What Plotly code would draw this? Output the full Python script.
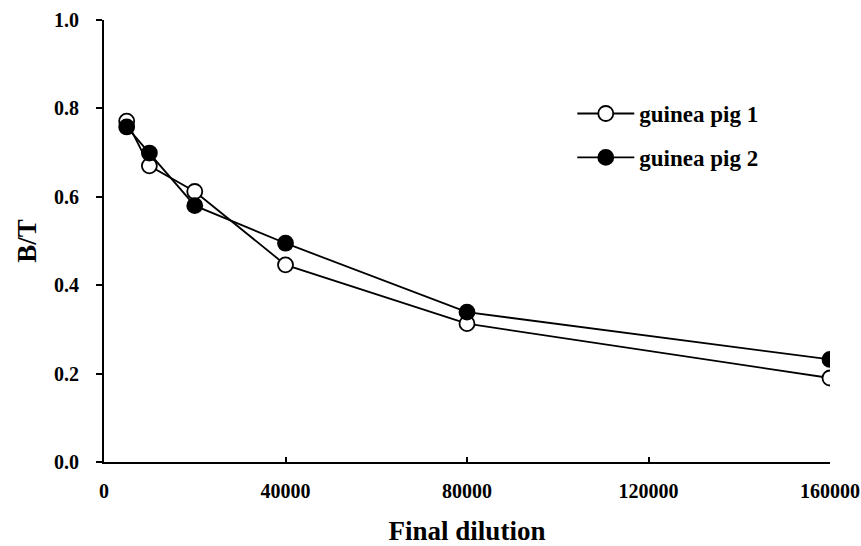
import plotly.graph_objects as go

dilution = [5000, 10000, 20000, 40000, 80000, 160000]
pig1_bt = [0.771, 0.670, 0.612, 0.446, 0.313, 0.190]
pig2_bt = [0.758, 0.699, 0.580, 0.495, 0.339, 0.232]
series_names = ["guinea pig 1", "guinea pig 2"]
x_ticks = [0, 40000, 80000, 120000, 160000]
y_ticks = [0.0, 0.2, 0.4, 0.6, 0.8, 1.0]

font_family = "Liberation Serif, Times New Roman, serif"

fig = go.Figure()
fig.add_trace(go.Scatter(
    x=dilution, y=pig1_bt, name=series_names[0], mode="lines+markers",
    legendgroup="g1",
    line=dict(color="black", width=1.8),
    marker=dict(symbol="circle", size=15, color="white",
                line=dict(color="black", width=1.8)),
))
fig.add_trace(go.Scatter(
    x=dilution, y=pig2_bt, name=series_names[1], mode="lines+markers",
    legendgroup="g2",
    line=dict(color="black", width=1.8),
    marker=dict(symbol="circle", size=15, color="black",
                line=dict(color="black", width=1.8)),
))

fig.update_layout(
    width=861, height=546,
    margin=dict(l=104, r=31, t=20, b=84),
    paper_bgcolor="white", plot_bgcolor="white",
    font=dict(family=font_family, color="black"),
    showlegend=True,
    legend=dict(
        x=0.645, y=0.837, xanchor="left", yanchor="top",
        bgcolor="rgba(0,0,0,0)",
        font=dict(family=font_family, size=23, color="black", weight="bold"),
        tracegroupgap=11, itemwidth=57,
    ),
    xaxis=dict(
        range=[0, 160000], tickvals=x_ticks,
        ticktext=[str(v) for v in x_ticks],
        automargin=False,
        showgrid=False, zeroline=False,
        showline=True, linecolor="black", linewidth=2,
        ticks="inside", ticklen=5, tickwidth=1.5, tickcolor="black",
        tickfont=dict(family=font_family, size=20, weight="bold"),
        ticklabelstandoff=10,
        title=dict(text="Final dilution", standoff=22,
                   font=dict(family=font_family, size=27, weight="bold")),
    ),
    yaxis=dict(
        range=[0, 1.0], tickvals=y_ticks,
        ticktext=[f"{v:.1f}" for v in y_ticks],
        automargin=False,
        showgrid=False, zeroline=False,
        showline=True, linecolor="black", linewidth=2,
        ticks="outside", ticklen=6, tickwidth=1.5, tickcolor="black",
        tickfont=dict(family=font_family, size=20, weight="bold"),
        ticklabelstandoff=13,
        title=dict(text="B/T", standoff=10,
                   font=dict(family=font_family, size=27, weight="bold")),
    ),
)

fig.write_html("out.html")
